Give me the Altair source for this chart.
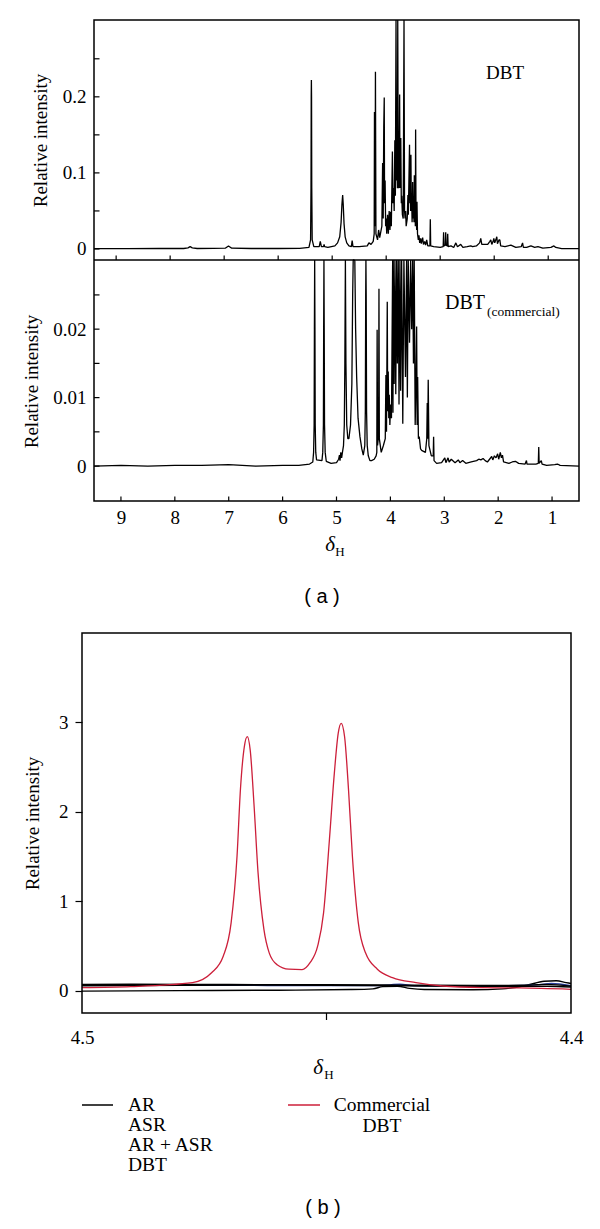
import altair as alt
import pandas as pd

SERIF = "Liberation Serif"
SANS = "Liberation Sans"

# ---------------- panel (a), upper: DBT  (ppm, relative intensity) ----------------
dbt_spectrum = [
    (9.41, 0.0005), (8.8, 0.0005), (8.2, 0.0008), (7.75, 0.0006), (7.67, 0.0015), (7.63, 0.003), (7.59, 0.0015), (7.5, 0.0006),
    (7.2, 0.0008), (6.98, 0.001), (6.94, 0.003), (6.92, 0.004), (6.90, 0.003), (6.86, 0.001), (6.5, 0.0006), (6.0, 0.0006), (5.6, 0.0008),
    (5.43, 0.002), (5.40, 0.012), (5.392, 0.08), (5.388, 0.2), (5.385, 0.222), (5.382, 0.2), (5.378, 0.08), (5.37, 0.012), (5.34, 0.003),
    (5.24, 0.003), (5.22, 0.01), (5.20, 0.003), (5.16, 0.003), (5.15, 0.006), (5.14, 0.003), (5.08, 0.002),
    (4.95, 0.004), (4.90, 0.008), (4.86, 0.016), (4.835, 0.035), (4.82, 0.058), (4.806, 0.071), (4.795, 0.058), (4.78, 0.033), (4.76, 0.016), (4.73, 0.008), (4.69, 0.004),
    (4.645, 0.003), (4.63, 0.011), (4.615, 0.003), (4.5, 0.003), (4.35, 0.004), (4.32, 0.008), (4.28, 0.006), (4.24, 0.01),
    (4.222, 0.02), (4.217, 0.18), (4.211, 0.03), (4.205, 0.05), (4.199, 0.233), (4.19, 0.02), (4.16, 0.012), (4.14, 0.025), (4.12, 0.015),
    (4.08, 0.03), (4.066, 0.113), (4.055, 0.04), (4.045, 0.16), (4.036, 0.199), (4.03, 0.06), (4.02, 0.09), (4.01, 0.03), (4.0, 0.04), (3.99, 0.02), (3.975, 0.045), (3.96, 0.02), (3.945, 0.05), (3.93, 0.025),
    (3.918, 0.049), (3.905, 0.03), (3.885, 0.128), (3.875, 0.06), (3.862, 0.08), (3.852, 0.05), (3.84, 0.143), (3.83, 0.07), (3.818, 0.35), (3.808, 0.09), (3.80, 0.11), (3.792, 0.08), (3.786, 0.35), (3.778, 0.12), (3.77, 0.08), (3.76, 0.1),
    (3.751, 0.203), (3.745, 0.08), (3.738, 0.12), (3.73, 0.146), (3.72, 0.06), (3.712, 0.07), (3.70, 0.045), (3.685, 0.04), (3.67, 0.35), (3.66, 0.05), (3.65, 0.04), (3.64, 0.05), (3.63, 0.03),
    (3.61, 0.04), (3.598, 0.071), (3.59, 0.045), (3.568, 0.137), (3.56, 0.06), (3.553, 0.09), (3.547, 0.05), (3.542, 0.124), (3.535, 0.05), (3.528, 0.065), (3.52, 0.035),
    (3.51, 0.088), (3.50, 0.04), (3.492, 0.06), (3.485, 0.035), (3.479, 0.097), (3.47, 0.04), (3.466, 0.05), (3.46, 0.03), (3.455, 0.157), (3.447, 0.03), (3.442, 0.05), (3.436, 0.025), (3.43, 0.062), (3.42, 0.02),
    (3.405, 0.012), (3.393, 0.018), (3.38, 0.008), (3.362, 0.014), (3.35, 0.007), (3.325, 0.015), (3.31, 0.006), (3.288, 0.01), (3.27, 0.005), (3.25, 0.012), (3.23, 0.004),
    (3.19, 0.004), (3.183, 0.039), (3.176, 0.004), (3.12, 0.003), (3.0, 0.002),
    (2.945, 0.003), (2.937, 0.022), (2.93, 0.004), (2.905, 0.005), (2.898, 0.022), (2.89, 0.005), (2.868, 0.004), (2.861, 0.02), (2.853, 0.003),
    (2.80, 0.004), (2.75, 0.002), (2.71, 0.008), (2.68, 0.003), (2.62, 0.006), (2.58, 0.002), (2.5, 0.003), (2.434, 0.004), (2.40, 0.003), (2.33, 0.004), (2.27, 0.008), (2.249, 0.014), (2.23, 0.006),
    (2.12, 0.006), (2.08, 0.01), (2.063, 0.012), (2.045, 0.006), (2.02, 0.01), (2.007, 0.014), (1.99, 0.008), (1.97, 0.012), (1.952, 0.016), (1.94, 0.007), (1.91, 0.012), (1.896, 0.012), (1.88, 0.004),
    (1.80, 0.003), (1.692, 0.005), (1.60, 0.002), (1.50, 0.003), (1.475, 0.008), (1.46, 0.002), (1.40, 0.002), (1.32, 0.004), (1.25, 0.002), (1.19, 0.003), (1.10, 0.001), (0.95, 0.002), (0.894, 0.004), (0.86, 0.002), (0.75, 0.0005), (0.43, 0.0005),
]

# ---------------- panel (a), lower: DBT (commercial) ----------------
commercial_spectrum = [
    (9.5, 0.0), (9.0, 0.0001), (8.5, 0.0), (8.0, 0.0001), (7.5, 0.0001), (7.0, 0.0002), (6.5, 0.0), (6.0, 0.0001), (5.7, 0.0001), (5.5, 0.0003),
    (5.44, 0.0006), (5.425, 0.002), (5.415, 0.006), (5.41, 0.02), (5.405, 0.06), (5.40, 0.02), (5.395, 0.006), (5.385, 0.002), (5.37, 0.0009),
    (5.27, 0.0008), (5.255, 0.002), (5.243, 0.006), (5.238, 0.02), (5.233, 0.06), (5.228, 0.02), (5.222, 0.006), (5.21, 0.002), (5.19, 0.0007),
    (5.1, 0.0004), (5.0, 0.0005), (4.96, 0.001), (4.945, 0.0016), (4.935, 0.0008), (4.92, 0.002), (4.905, 0.0012),
    (4.89, 0.002), (4.87, 0.003), (4.855, 0.006), (4.845, 0.015), (4.835, 0.06), (4.825, 0.015), (4.81, 0.006), (4.79, 0.004), (4.77, 0.004),
    (4.74, 0.006), (4.715, 0.012), (4.70, 0.025), (4.69, 0.05), (4.676, 0.08), (4.66, 0.03), (4.645, 0.02), (4.626, 0.013), (4.60, 0.007), (4.565, 0.0043), (4.53, 0.0025), (4.503, 0.0016),
    (4.475, 0.003), (4.465, 0.008), (4.458, 0.025), (4.454, 0.06), (4.449, 0.025), (4.442, 0.008), (4.43, 0.003), (4.41, 0.0015), (4.38, 0.0008),
    (4.35, 0.0008), (4.30, 0.001), (4.265, 0.0015), (4.252, 0.002), (4.246, 0.0199), (4.238, 0.003), (4.225, 0.004), (4.218, 0.006), (4.212, 0.0259), (4.205, 0.004), (4.17, 0.002), (4.13, 0.003),
    (4.095, 0.004), (4.083, 0.0133), (4.072, 0.005), (4.058, 0.024), (4.05, 0.008), (4.04, 0.0138), (4.03, 0.007), (4.021, 0.0104), (4.01, 0.006), (3.995, 0.009), (3.98, 0.007),
    (3.958, 0.06), (3.952, 0.0078), (3.947, 0.06), (3.93, 0.012), (3.916, 0.06), (3.90, 0.0105), (3.884, 0.06), (3.87, 0.015), (3.854, 0.06), (3.84, 0.009), (3.823, 0.06), (3.81, 0.011),
    (3.791, 0.06), (3.77, 0.0062), (3.749, 0.06), (3.72, 0.013), (3.699, 0.06), (3.685, 0.01), (3.669, 0.06), (3.645, 0.018), (3.624, 0.06), (3.605, 0.02), (3.587, 0.06), (3.572, 0.015), (3.558, 0.06),
    (3.54, 0.006), (3.525, 0.012), (3.513, 0.0204), (3.503, 0.006), (3.494, 0.013), (3.48, 0.004), (3.465, 0.0043), (3.44, 0.0025), (3.42, 0.0023), (3.35, 0.002), (3.325, 0.004), (3.316, 0.0092),
    (3.307, 0.004), (3.298, 0.0126), (3.285, 0.003), (3.24, 0.0015), (3.205, 0.0015), (3.198, 0.0043), (3.19, 0.0008), (3.142, 0.0004),
    (3.05, 0.0005), (2.99, 0.0012), (2.97, 0.0005), (2.93, 0.0012), (2.91, 0.0006), (2.87, 0.001), (2.80, 0.0005), (2.74, 0.0009), (2.71, 0.0005), (2.66, 0.0008), (2.60, 0.0004), (2.50, 0.0006),
    (2.40, 0.0008), (2.36, 0.001), (2.32, 0.0009), (2.28, 0.0011), (2.24, 0.0008), (2.20, 0.0006),
    (2.12, 0.0014), (2.10, 0.0009), (2.07, 0.0015), (2.04, 0.0012), (2.01, 0.0018), (1.99, 0.001), (1.96, 0.002), (1.94, 0.0012), (1.92, 0.0016), (1.90, 0.0006),
    (1.80, 0.0004), (1.74, 0.0006), (1.68, 0.0007), (1.62, 0.0004), (1.50, 0.0003), (1.475, 0.0008), (1.465, 0.0003),
    (1.30, 0.0003), (1.255, 0.0004), (1.247, 0.0028), (1.24, 0.0004), (1.20, 0.0008), (1.185, 0.0003),
    (1.10, 0.0001), (0.95, 0.0002), (0.90, 0.0003), (0.85, 0.0001), (0.5, 0.0),
]

# ---------------- panel (b): 4.5 - 4.4 ppm ----------------
b_commercial = [
    (4.5, 0.034), (4.49, 0.045), (4.4774, 0.09), (4.4735, 0.2), (4.4711, 0.387), (4.4695, 0.76), (4.4683, 1.5), (4.4676, 2.25),
    (4.4668, 2.73), (4.4662, 2.84), (4.4656, 2.69), (4.4648, 2.06), (4.464, 1.32), (4.4628, 0.685), (4.4617, 0.42), (4.4601, 0.29),
    (4.4577, 0.24), (4.455, 0.235), (4.4534, 0.31), (4.4518, 0.5), (4.4506, 0.87), (4.4494, 1.69), (4.4484, 2.43), (4.4476, 2.88),
    (4.447, 2.99), (4.4463, 2.84), (4.4455, 2.25), (4.4447, 1.5), (4.4435, 0.76), (4.442, 0.42), (4.4396, 0.24), (4.4365, 0.145),
    (4.4317, 0.09), (4.4262, 0.052), (4.4183, 0.034), (4.4105, 0.03), (4.4, 0.015),
]
b_ar = [(4.5, -0.005), (4.48, 0.0), (4.46, 0.005), (4.445, 0.012), (4.4405, 0.02), (4.4385, 0.045), (4.4355, 0.05), (4.433, 0.025),
        (4.43, 0.012), (4.42, 0.01), (4.414, 0.02), (4.409, 0.06), (4.4055, 0.105), (4.403, 0.11), (4.401, 0.09), (4.4, 0.08)]
b_asr = [(4.5, 0.07), (4.49, 0.072), (4.47, 0.068), (4.45, 0.066), (4.435, 0.062), (4.42, 0.058), (4.41, 0.06), (4.405, 0.07), (4.4, 0.05)]
b_ar_asr = [(4.5, 0.062), (4.48, 0.06), (4.46, 0.058), (4.44, 0.056), (4.437, 0.065), (4.435, 0.072), (4.432, 0.055), (4.42, 0.05),
            (4.407, 0.065), (4.404, 0.08), (4.4, 0.055)]
b_dbt = [(4.5, 0.055), (4.48, 0.06), (4.46, 0.062), (4.44, 0.058), (4.43, 0.052), (4.415, 0.048), (4.405, 0.05), (4.4, 0.04)]

# tick values
a_top_yticks = [0, 0.05, 0.1, 0.15, 0.2, 0.25]
a_top_ylabels = [0, 0.1, 0.2]
a_bot_yticks = [0, 0.005, 0.01, 0.015, 0.02, 0.025]
a_bot_ylabels = [0, 0.01, 0.02]
a_xticks = [1, 2, 3, 4, 5, 6, 7, 8, 9]
b_yticks = [0, 1, 2, 3]
b_xlabels = [4.5, 4.4]
b_xmid = [4.45]

# one drawing area: panel (a) at x 12..497, y 0..481 ; panel (b) at x 0..489, y 613..993
W, H = 497, 993
AX0, AX1 = 12, 497
A_MID, A_BOT = 240, 481
BX1, BY0, BY1 = 489, 613, 993


def frame(pts):
    return pd.DataFrame(pts, columns=["ppm", "val"])


def one():
    return pd.DataFrame({"t": [0]})


def text(s, x, y, size=19, font=SERIF, align="center", style="normal"):
    return alt.Chart(pd.DataFrame({"t": [s]})).mark_text(
        font=font, fontSize=size, align=align, baseline="middle", color="black", fontStyle=style
    ).encode(text="t:N", x=alt.value(x), y=alt.value(y))


def yaxis(values, offset, tx, ty, ticks=False, tsize=0, lpad=8):
    return alt.Axis(values=values, format="~g", orient="left", offset=offset, ticks=ticks, tickSize=tsize,
                    tickColor="black", tickWidth=1.2, domain=False, grid=False,
                    labelFont=SERIF, labelFontSize=19, labelColor="black", labelPadding=lpad,
                    title="Relative intensity", titleFont=SERIF, titleFontSize=19, titleFontWeight="normal",
                    titleColor="black", titleX=tx, titleY=ty, titleAngle=270, titleAlign="center", titleBaseline="middle")


def xaxis(values, offset, lpad, fmt):
    return alt.Axis(values=values, format=fmt, orient="bottom", offset=offset, ticks=False, tickSize=0, domain=False,
                    grid=False, labelFont=SERIF, labelFontSize=19, labelColor="black", labelPadding=lpad,
                    labelFlush=False, title=None)


def rule(x, x2, y, y2=None, color="black", sw=1.5):
    enc = dict(x=alt.value(x), x2=alt.value(x2), y=alt.value(y))
    if y2 is not None:
        enc["y2"] = alt.value(y2)
    return alt.Chart(one()).mark_rule(color=color, strokeWidth=sw).encode(**enc)


def box(x, x2, y, y2):
    return alt.Chart(one()).mark_rect(fillOpacity=0, stroke="black", strokeWidth=1.5).encode(
        x=alt.value(x), x2=alt.value(x2), y=alt.value(y), y2=alt.value(y2))


# ---------------- scales ----------------
xs_top = alt.Scale(domain=[0.43, 9.41], range=[AX0, AX1], reverse=True, nice=False, zero=False)
xs_bot = alt.Scale(domain=[0.5, 9.5], range=[AX0, AX1], reverse=True, nice=False, zero=False)
ys_top = alt.Scale(domain=[-0.0145, 0.301], range=[A_MID, 0], nice=False, zero=False, clamp=True)
ys_bot = alt.Scale(domain=[-0.0051, 0.0301], range=[A_BOT, A_MID], nice=False, zero=False, clamp=True)
xs_b = alt.Scale(domain=[4.4, 4.5], range=[0, BX1], reverse=True, nice=False, zero=False)
ys_b = alt.Scale(domain=[-0.25, 4.0], range=[BY1, BY0], nice=False, zero=False, clamp=True)

# ---------------- panel (a) ----------------
top_line = alt.Chart(frame(dbt_spectrum)).mark_line(color="black", strokeWidth=1.3, strokeJoin="bevel").encode(
    x=alt.X("ppm:Q", scale=xs_top, axis=None),
    y=alt.Y("val:Q", scale=ys_top, axis=yaxis(a_top_ylabels, -AX0, -54, 120)),
)
bot_line = alt.Chart(frame(commercial_spectrum)).mark_line(color="black", strokeWidth=1.3, strokeJoin="bevel").encode(
    x=alt.X("ppm:Q", scale=xs_bot, axis=xaxis(a_xticks, -(H - A_BOT), 7, "~g")),
    y=alt.Y("val:Q", scale=ys_bot, axis=yaxis(a_bot_ylabels, -AX0, -63, 361)),
)
top_yt = alt.Chart(pd.DataFrame({"val": a_top_yticks})).mark_rule(color="black", strokeWidth=1.2).encode(
    y=alt.Y("val:Q", scale=ys_top, axis=None), x=alt.value(AX0), x2=alt.value(AX0 + 5.5))
bot_yt = alt.Chart(pd.DataFrame({"val": a_bot_yticks})).mark_rule(color="black", strokeWidth=1.2).encode(
    y=alt.Y("val:Q", scale=ys_bot, axis=None), x=alt.value(AX0), x2=alt.value(AX0 + 5.5))
top_xt = alt.Chart(pd.DataFrame({"ppm": a_xticks})).mark_rule(color="black", strokeWidth=1.2).encode(
    x=alt.X("ppm:Q", scale=xs_top, axis=None), y=alt.value(A_MID), y2=alt.value(A_MID - 4.5))
bot_xt = alt.Chart(pd.DataFrame({"ppm": a_xticks})).mark_rule(color="black", strokeWidth=1.2).encode(
    x=alt.X("ppm:Q", scale=xs_bot, axis=None), y=alt.value(A_BOT), y2=alt.value(A_BOT - 4.5))

# ---------------- panel (b) ----------------
def bline(pts, color, sw, with_axes=False):
    return alt.Chart(frame(pts)).mark_line(color=color, strokeWidth=sw, interpolate="monotone").encode(
        x=alt.X("ppm:Q", scale=xs_b, axis=xaxis(b_xlabels, 0, 15, ".1f") if with_axes else None),
        y=alt.Y("val:Q", scale=ys_b,
                axis=yaxis(b_yticks, 0, -50, (BY0 + BY1) / 2, ticks=True, tsize=7, lpad=7) if with_axes else None))


b_mid = alt.Chart(pd.DataFrame({"ppm": b_xmid})).mark_rule(color="black", strokeWidth=1.2).encode(
    x=alt.X("ppm:Q", scale=xs_b, axis=None), y=alt.value(BY1), y2=alt.value(BY1 + 7))

chart = alt.layer(
    # panel (a)
    top_line, bot_line, top_yt, bot_yt, top_xt, bot_xt,
    box(AX0, AX1, 0, A_BOT), rule(AX0, AX1, A_MID),
    text("DBT", 423, 53, 19),
    text("DBT", 363, 283, 20, align="left"),
    text("(commercial)", 405, 292, 13.5, align="left"),
    text("δ", 248, 525, 21, style="italic"),
    text("H", 258, 532, 13),
    text("( a )", 240, 577, 20, font=SANS),
    # panel (b)
    bline(b_ar, "black", 1.4, with_axes=True),
    bline(b_ar_asr, "#2b3f9e", 1.4),
    bline(b_dbt, "black", 1.4),
    bline(b_asr, "black", 1.4),
    bline(b_commercial, "#cc1f3a", 1.3),
    b_mid, box(0, BX1, BY0, BY1),
    rule(0, 31, 1085, color="black"),
    rule(206, 238, 1085, color="#cc1f3a"),
    text("AR", 46, 1085, 19.5, align="left"),
    text("ASR", 46, 1105, 19.5, align="left"),
    text("AR + ASR", 46, 1125, 19.5, align="left"),
    text("DBT", 46, 1145, 19.5, align="left"),
    text("Commercial", 300, 1085, 19.5),
    text("DBT", 300, 1106, 19.5),
    text("δ", 236, 1048, 21, style="italic"),
    text("H", 247, 1055, 13),
    text("( b )", 241, 1188, 20, font=SANS),
).resolve_scale(x="independent", y="independent").properties(
    width=W, height=H,
    autosize=alt.AutoSizeParams(type="none"),
    padding={"left": 74, "top": 12, "right": 10, "bottom": 205},
).configure_view(stroke="transparent").configure_axis(labelFont=SERIF, titleFont=SERIF)

chart.save("out.html", embed_options={"renderer": "svg", "actions": False})
